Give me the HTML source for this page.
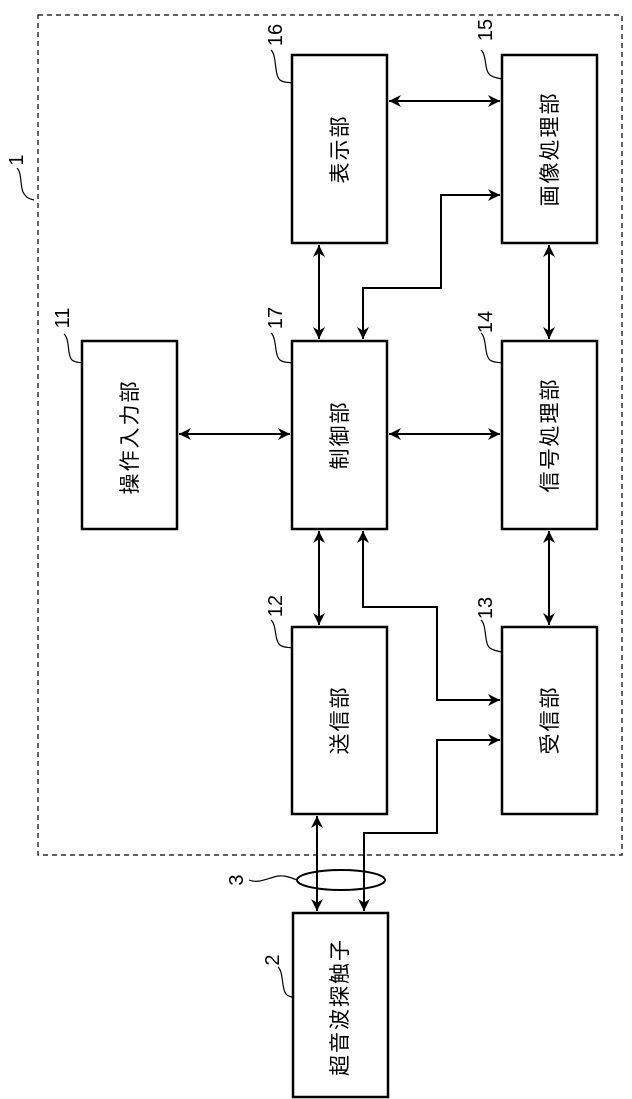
<!DOCTYPE html>
<html><head><meta charset="utf-8"><style>
html,body{margin:0;padding:0;background:#fff;}
svg{display:block;}
text{font-family:"Liberation Sans","Noto Sans CJK JP",sans-serif;fill:#000;}
</style></head><body>
<svg width="632" height="1099" viewBox="0 0 632 1099" xmlns="http://www.w3.org/2000/svg">
<defs>
<marker id="a" viewBox="0 0 10 10" refX="10" refY="5" markerWidth="12" markerHeight="12" markerUnits="userSpaceOnUse" orient="auto-start-reverse"><path d="M0,0 L10,5 L0,10 L3,5 z" fill="#000"/></marker>
</defs>
<rect x="38" y="15" width="584" height="840" fill="none" stroke="#000" stroke-width="1.2" stroke-dasharray="5,4"/>
<g fill="#fff" stroke="#000" stroke-width="2.5">
<rect x="292" y="55" width="95" height="188"/>
<rect x="502" y="55" width="95" height="188"/>
<rect x="82" y="341" width="95" height="188"/>
<rect x="292" y="341" width="95" height="188"/>
<rect x="502" y="341" width="95" height="188"/>
<rect x="292" y="627" width="95" height="187"/>
<rect x="502" y="627" width="95" height="187"/>
<rect x="293" y="913" width="95" height="184"/>
</g>
<g stroke="#000" stroke-width="2" fill="none">
<line x1="389" y1="101" x2="500" y2="101" marker-start="url(#a)" marker-end="url(#a)"/>
<line x1="319" y1="245" x2="319" y2="339" marker-start="url(#a)" marker-end="url(#a)"/>
<polyline points="500,195 441,195 441,288 363,288 363,339" marker-start="url(#a)" marker-end="url(#a)"/>
<line x1="549" y1="245" x2="549" y2="339" marker-start="url(#a)" marker-end="url(#a)"/>
<line x1="179" y1="434" x2="290" y2="434" marker-start="url(#a)" marker-end="url(#a)"/>
<line x1="389" y1="434" x2="500" y2="434" marker-start="url(#a)" marker-end="url(#a)"/>
<line x1="319" y1="531" x2="319" y2="625" marker-start="url(#a)" marker-end="url(#a)"/>
<line x1="549" y1="531" x2="549" y2="625" marker-start="url(#a)" marker-end="url(#a)"/>
<polyline points="363,531 363,607 437,607 437,700 500,700" marker-start="url(#a)" marker-end="url(#a)"/>
<polyline points="364,911 364,833 437,833 437,740 500,740" marker-start="url(#a)" marker-end="url(#a)"/>
<line x1="317" y1="816" x2="317" y2="911" marker-start="url(#a)" marker-end="url(#a)"/>
<ellipse cx="341" cy="880" rx="44" ry="10"/>
</g>
<g stroke="#000" stroke-width="1.2" fill="none">
<path d="M271,50 C277,55 274,75 280,80 C284,83 288,82 292,83"/>
<path d="M481,50 C487,55 484,70 490,75 C494,78 498,78 502,79"/>
<path d="M64,334 C70,339 67,355 72,360 C76,363 79,362 82,363"/>
<path d="M271,333 C277,338 274,355 280,360 C284,363 288,362 292,363"/>
<path d="M481,333 C487,338 484,355 490,360 C494,363 498,362 502,363"/>
<path d="M271,620 C277,625 274,640 280,645 C284,648 288,647 292,648"/>
<path d="M481,620 C487,625 484,644 490,648 C494,651 498,651 502,652"/>
<path d="M278,967 C284,972 281,990 287,995 C290,997 292,997 293,997"/>
<path d="M249,880 C258,884 268,878 278,876 C285,875 292,878 297,880"/>
<path d="M17,168 C22,173 20,185 23,192 C26,198 30,199 34,200"/>
</g>
<g font-size="20" text-anchor="middle">
<text transform="translate(275,35) rotate(-90)" dy="7">16</text>
<text transform="translate(485,30) rotate(-90)" dy="7">15</text>
<text transform="translate(62,318) rotate(-90)" dy="7">11</text>
<text transform="translate(275,318) rotate(-90)" dy="7">17</text>
<text transform="translate(485,322) rotate(-90)" dy="7">14</text>
<text transform="translate(275,606) rotate(-90)" dy="7">12</text>
<text transform="translate(485,608) rotate(-90)" dy="7">13</text>
<text transform="translate(272,960) rotate(-90)" dy="7">2</text>
<text transform="translate(236,880) rotate(-90)" dy="7">3</text>
<text transform="translate(16,160) rotate(-90)" dy="7">1</text>
</g>
<g font-size="21" text-anchor="middle" letter-spacing="2">
<text transform="translate(340,149) rotate(-90)" dy="7">表示部</text>
<text transform="translate(550,149) rotate(-90)" dy="7">画像処理部</text>
<text transform="translate(130,437) rotate(-90)" dy="7">操作入力部</text>
<text transform="translate(340,435) rotate(-90)" dy="7">制御部</text>
<text transform="translate(550,435) rotate(-90)" dy="7">信号処理部</text>
<text transform="translate(340,720) rotate(-90)" dy="7">送信部</text>
<text transform="translate(550,720) rotate(-90)" dy="7">受信部</text>
<text transform="translate(340,1007) rotate(-90)" dy="7">超音波探触子</text>
</g>
</svg>
</body></html>
